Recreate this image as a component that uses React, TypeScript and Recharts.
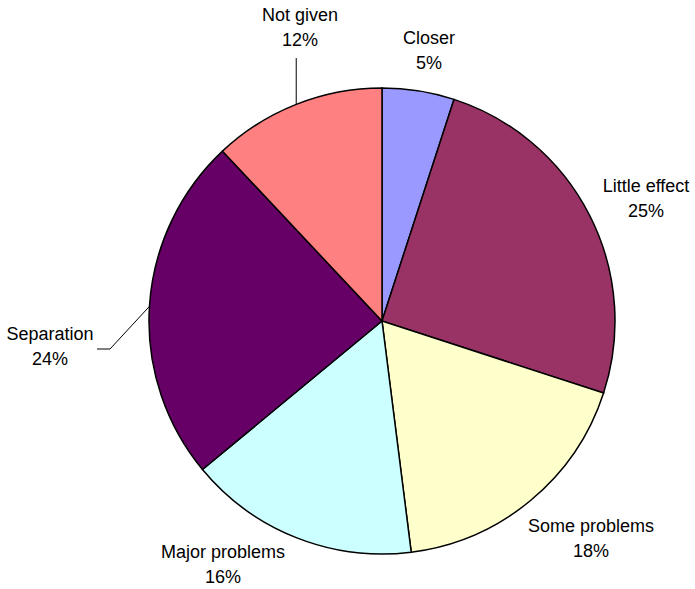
import { PieChart, Pie, Cell } from 'recharts';

const categories = ['Closer', 'Little effect', 'Some problems', 'Major problems', 'Separation', 'Not given'];
const shares = [5, 25, 18, 16, 24, 12];
const colors = ['#9999FF', '#993366', '#FFFFCC', '#CCFFFF', '#660066', '#FF8080'];

const chartData = categories.map((name, i) => ({ name, value: shares[i] }));

// label block positions (centre x, first baseline) relative to pie centre
const labelLayout = [
  { dx: 47, dy: -277 },
  { dx: 264, dy: -129 },
  { dx: 209, dy: 211 },
  { dx: -159, dy: 237 },
  { dx: -332, dy: 19 },
  { dx: -82, dy: -300 },
];

const RAD = Math.PI / 180;

const renderLabel = (props: any) => {
  const { cx, cy, midAngle, outerRadius, index, name, value } = props;
  const pos = labelLayout[index];
  const tx = cx + pos.dx;
  const ty = cy + pos.dy;
  const rx = cx + outerRadius * Math.cos(-midAngle * RAD);
  const ry = cy + outerRadius * Math.sin(-midAngle * RAD);

  let leader = null;
  if (name === 'Not given') {
    leader = <polyline points={`${rx},${ry} ${rx},${ty + 37}`} fill="none" stroke="#000" strokeWidth={1} />;
  } else if (name === 'Separation') {
    leader = (
      <polyline
        points={`${rx},${ry} ${tx + 60},${ty + 9} ${tx + 47},${ty + 9}`}
        fill="none"
        stroke="#000"
        strokeWidth={1}
      />
    );
  }

  return (
    <g key={`label-${index}`}>
      {leader}
      <text
        x={tx}
        y={ty}
        textAnchor="middle"
        fontFamily="'Liberation Sans', Arial, sans-serif"
        fontSize={18}
        fill="#000"
      >
        <tspan x={tx} y={ty}>{name}</tspan>
        <tspan x={tx} y={ty + 25}>{`${value}%`}</tspan>
      </text>
    </g>
  );
};

export default function App() {
  return (
    <div style={{ width: 695, height: 589, background: '#fff' }}>
      <style>{'body{margin:0}'}</style>
      <PieChart width={695} height={589} margin={{ top: 0, right: 0, bottom: 0, left: 0 }}>
        <Pie
          data={chartData}
          dataKey="value"
          nameKey="name"
          cx={382}
          cy={321}
          outerRadius={233}
          startAngle={90}
          endAngle={-270}
          stroke="#000"
          strokeWidth={1.5}
          label={renderLabel}
          labelLine={false}
          isAnimationActive={false}
        >
          {chartData.map((entry, index) => (
            <Cell key={`cell-${index}`} fill={colors[index]} />
          ))}
        </Pie>
      </PieChart>
    </div>
  );
}
